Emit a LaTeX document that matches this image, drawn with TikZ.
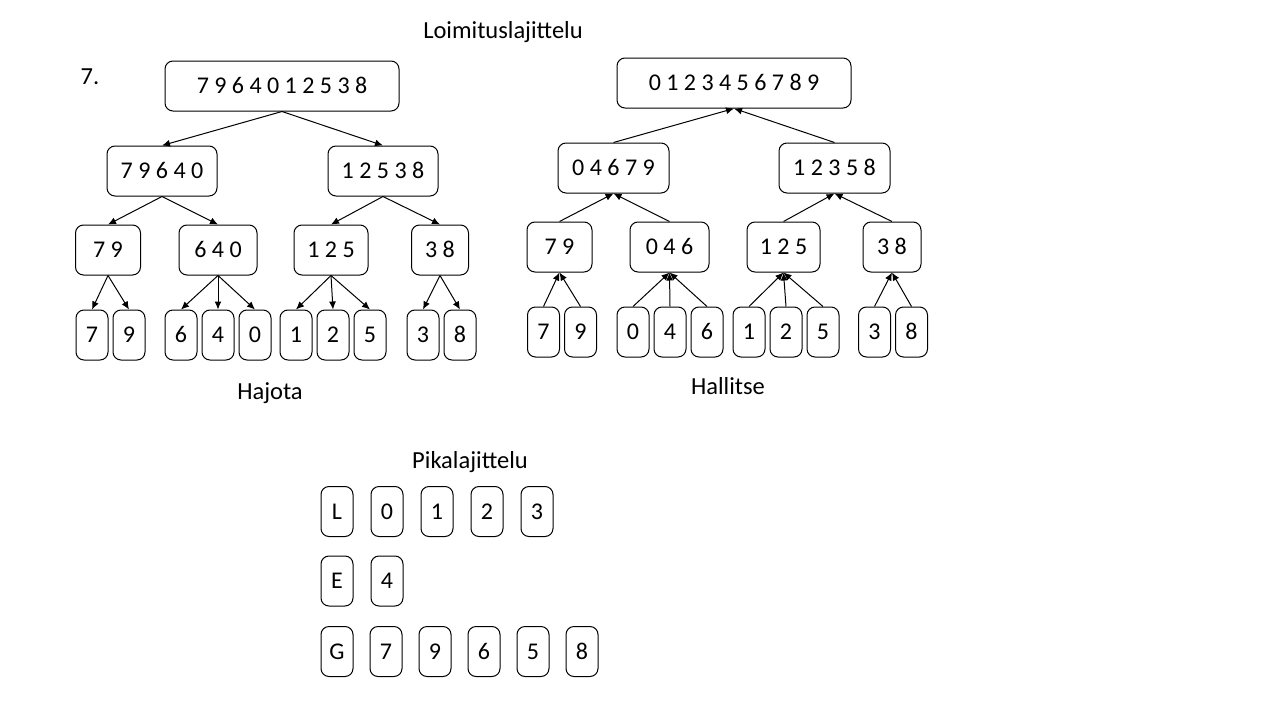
\documentclass[tikz,border=0pt]{standalone}
\usepackage{fontspec}
\setmainfont{Carlito}
\usepackage{tikz}
\usetikzlibrary{shapes,arrows,arrows.meta}
\usetikzlibrary{positioning}
\tikzstyle{block} = [rectangle, draw, line width=1pt, rounded corners=8pt,
    inner sep=0pt, minimum height=50pt, text height=15pt, text depth=0pt,
    font=\fontsize{24}{28}\selectfont]
\tikzstyle{leaf} = [block, minimum width=32pt]
\tikzstyle{label} = [font=\fontsize{24.5}{28}\selectfont]
\tikzstyle{line} = [draw, -{Latex[length=8pt,width=7pt]}, line width=1pt]

\begin{document}
\begin{tikzpicture}[x=1pt, y=-1pt, node distance = 4pt]
    \useasboundingbox (0,0) rectangle (1280,720);
    % Texts
    \node [label] (title) at (503,32) {Loimituslajittelu};
    \node [label] (num) at (90,77) {7.};
    \node [label] (hajota) at (270,393) {Hajota};
    \node [label] (hallitse) at (728,386) {Hallitse};
    \node [label] (pika) at (470,462) {Pikalajittelu};

    % Hajota
    \node [block, minimum width=234pt] (hroot) at (282,86) {7 9 6 4 0 1 2 5 3 8};
    \node [block, minimum width=110pt] (ha) at (162,171) {7 9 6 4 0};
    \node [block, minimum width=110pt] (hb) at (383,171) {1 2 5 3 8};
    \node [block, minimum width=65pt] (haa) at (108,250) {7 9};
    \node [block, minimum width=78pt] (hab) at (218,250) {6 4 0};
    \node [block, minimum width=74pt] (hba) at (331,250) {1 2 5};
    \node [block, minimum width=57pt] (hbb) at (440,250) {3 8};

    \node [leaf] (h7) at (92,335) {7};
    \node [leaf, right=of h7] (h9) {9};
    \node [leaf] (h6) at (181,335) {6};
    \node [leaf, right=of h6] (h4) {4};
    \node [leaf, right=of h4] (h0) {0};
    \node [leaf] (h1) at (296,335) {1};
    \node [leaf, right=of h1] (h2) {2};
    \node [leaf, right=of h2] (h5) {5};
    \node [leaf] (h3) at (423,335) {3};
    \node [leaf, right=of h3] (h8) {8};

    \path [line] (hroot.south) -- (ha.north);
    \path [line] (hroot.south) -- (hb.north);
    \path [line] (ha.south) -- (haa.north);
    \path [line] (ha.south) -- (hab.north);
    \path [line] (hb.south) -- (hba.north);
    \path [line] (hb.south) -- (hbb.north);
    \path [line] (haa.south) -- (h7.north);
    \path [line] (haa.south) -- (h9.north);
    \path [line] (hab.south) -- (h6.north);
    \path [line] (hab.south) -- (h4.north);
    \path [line] (hab.south) -- (h0.north);
    \path [line] (hba.south) -- (h1.north);
    \path [line] (hba.south) -- (h2.north);
    \path [line] (hba.south) -- (h5.north);
    \path [line] (hbb.south) -- (h3.north);
    \path [line] (hbb.south) -- (h8.north);

    % Hallitse
    \node [block, minimum width=234pt] (kroot) at (734,83) {0 1 2 3 4 5 6 7 8 9};
    \node [block, minimum width=111pt] (ka) at (613.5,168) {0 4 6 7 9};
    \node [block, minimum width=111pt] (kb) at (834.5,168) {1 2 3 5 8};
    \node [block, minimum width=65pt] (kaa) at (559.5,247) {7 9};
    \node [block, minimum width=79pt] (kab) at (669.5,247) {0 4 6};
    \node [block, minimum width=73pt] (kba) at (783.5,247) {1 2 5};
    \node [block, minimum width=58pt] (kbb) at (892,247) {3 8};

    \node [leaf] (k7) at (543.5,332) {7};
    \node [leaf, right=of k7] (k9) {9};
    \node [leaf] (k0) at (633,332) {0};
    \node [leaf, right=of k0] (k4) {4};
    \node [leaf, right=of k4] (k6) {6};
    \node [leaf] (k1) at (749,332) {1};
    \node [leaf, right=of k1] (k2) {2};
    \node [leaf, right=of k2] (k5) {5};
    \node [leaf] (k3) at (874.5,332) {3};
    \node [leaf, right=of k3] (k8) {8};

    \path [line] (ka.north) -- (kroot.south);
    \path [line] (kb.north) -- (kroot.south);
    \path [line] (kaa.north) -- (ka.south);
    \path [line] (kab.north) -- (ka.south);
    \path [line] (kba.north) -- (kb.south);
    \path [line] (kbb.north) -- (kb.south);
    \path [line] (k7.north) -- (kaa.south);
    \path [line] (k9.north) -- (kaa.south);
    \path [line] (k0.north) -- (kab.south);
    \path [line] (k4.north) -- (kab.south);
    \path [line] (k6.north) -- (kab.south);
    \path [line] (k1.north) -- (kba.south);
    \path [line] (k2.north) -- (kba.south);
    \path [line] (k5.north) -- (kba.south);
    \path [line] (k3.north) -- (kbb.south);
    \path [line] (k8.north) -- (kbb.south);

    % Pikalajittelu
    \node [leaf] (pl) at (337,511.5) {L};
    \node [leaf, right=17pt of pl] (pl0) {0};
    \node [leaf, right=17pt of pl0] (pl1) {1};
    \node [leaf, right=17pt of pl1] (pl2) {2};
    \node [leaf, right=17pt of pl2] (pl3) {3};

    \node [leaf] (pe) at (337,581) {E};
    \node [leaf, right=17pt of pe] (pe4) {4};

    \node [leaf] (pg) at (337,651.5) {G};
    \node [leaf, right=16pt of pg] (pg7) {7};
    \node [leaf, right=16pt of pg7] (pg9) {9};
    \node [leaf, right=16pt of pg9] (pg6) {6};
    \node [leaf, right=16pt of pg6] (pg5) {5};
    \node [leaf, right=16pt of pg5] (pg8) {8};
\end{tikzpicture}
\end{document}
